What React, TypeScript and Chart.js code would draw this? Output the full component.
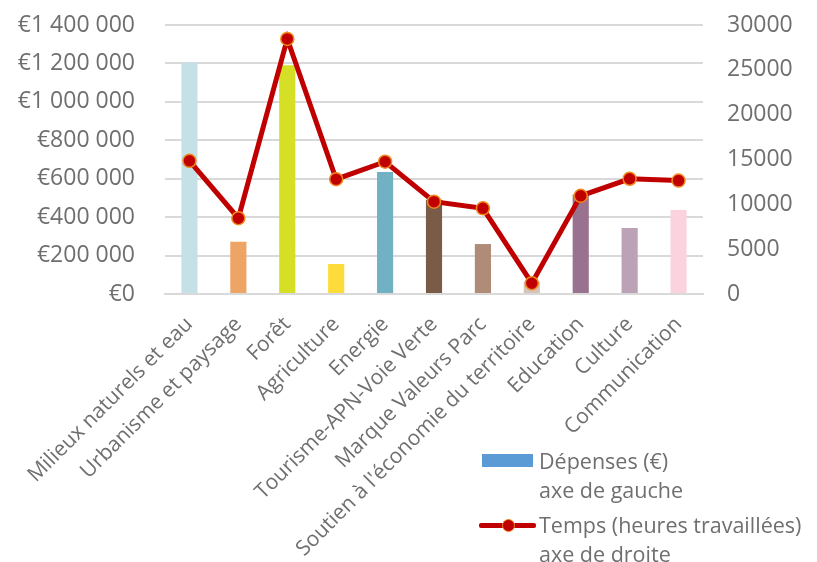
import React, { useEffect, useRef } from "react";
import { Chart, registerables } from "chart.js";

Chart.register(...registerables);

const categories = [
  "Milieux naturels et eau",
  "Urbanisme et paysage",
  "Forêt",
  "Agriculture",
  "Energie",
  "Tourisme-APN-Voie Verte",
  "Marque Valeurs Parc",
  "Soutien à l'économie du territoire",
  "Education",
  "Culture",
  "Communication",
];

const depenses = [1205000, 272000, 1190000, 156000, 635000, 490000, 260000, 65000, 518000, 343000, 437000];
const temps = [14850, 8450, 28450, 12800, 14750, 10300, 9550, 1200, 10950, 12850, 12650];

const barColors = [
  "#c6e0e8",
  "#eda464",
  "#d4df26",
  "#fddb3a",
  "#72b1c3",
  "#7a5b47",
  "#b08c78",
  "#d6c4b8",
  "#98728f",
  "#bba2b6",
  "#fbd3de",
];

const leftTickLabels = ["€0", "€200 000", "€400 000", "€600 000", "€800 000", "€1 000 000", "€1 200 000", "€1 400 000"];
const rightTickLabels = ["0", "5000", "10000", "15000", "20000", "25000", "30000"];

const legendBarLabel = ["Dépenses (€)", "axe de gauche"];
const legendLineLabel = ["Temps (heures travaillées)", "axe de droite"];

const TEXT = "#6f6f6f";
const FONT = "'Open Sans', 'Noto Sans', sans-serif";

export default function App() {
  const ref = useRef<HTMLCanvasElement | null>(null);

  useEffect(() => {
    if (!ref.current) return;
    const chart = new Chart(ref.current, {
      type: "bar",
      data: {
        labels: categories,
        datasets: [
          {
            type: "line",
            label: "Temps",
            data: temps,
            yAxisID: "y1",
            borderColor: "#c00000",
            borderWidth: 5,
            pointBackgroundColor: "#c00000",
            pointBorderColor: "#f08a1c",
            pointBorderWidth: 1.5,
            pointRadius: 6.5,
            tension: 0,
            order: 0,
          } as any,
          {
            type: "bar",
            label: "Dépenses",
            data: depenses,
            yAxisID: "y",
            backgroundColor: barColors,
            barPercentage: 0.33,
            categoryPercentage: 1,
            order: 1,
          },
        ],
      },
      options: {
        responsive: false,
        animation: false,
        maintainAspectRatio: false,
        layout: { padding: { top: 25, left: 0, right: 0, bottom: 0 } },
        plugins: {
          legend: { display: false },
          tooltip: { enabled: false },
        },
        scales: {
          x: {
            grid: { display: false },
            border: { color: "#d9d9d9", width: 2 },
            ticks: {
              color: TEXT,
              font: { family: FONT, size: 21 },
              minRotation: 45,
              maxRotation: 45,
              autoSkip: false,
              padding: 10,
            },
            afterFit: (s: any) => {
              s.height = 562 - 294;
            },
          },
          y: {
            position: "left",
            min: 0,
            max: 1400000,
            ticks: {
              stepSize: 200000,
              color: TEXT,
              font: { family: FONT, size: 23 },
              padding: 30,
              callback: (_v: any, i: number) => leftTickLabels[i],
            },
            grid: { color: "#d9d9d9", lineWidth: 2, drawTicks: false },
            border: { display: false },
            afterFit: (s: any) => {
              s.width = 165;
              s.paddingTop = 0;
              s.paddingBottom = 0;
            },
          },
          y1: {
            position: "right",
            min: 0,
            max: 30000,
            ticks: {
              stepSize: 5000,
              color: TEXT,
              font: { family: FONT, size: 23 },
              padding: 24,
              callback: (_v: any, i: number) => rightTickLabels[i],
            },
            grid: { display: false, drawTicks: false },
            border: { display: false },
            afterFit: (s: any) => {
              s.width = 817 - 703;
              s.paddingTop = 0;
              s.paddingBottom = 0;
            },
          },
        },
      },
    });
    return () => chart.destroy();
  }, []);

  const textStyle: React.CSSProperties = {
    position: "absolute",
    fontFamily: FONT,
    fontSize: 21.5,
    color: TEXT,
    lineHeight: "29px",
    whiteSpace: "nowrap",
  };

  return (
    <div style={{ position: "fixed", left: 0, top: 0, width: 817, height: 562, background: "#fff" }}>
      <canvas ref={ref} width={817} height={562} style={{ position: "absolute", left: 0, top: 0 }} />
      <div style={{ position: "absolute", left: 482, top: 454, width: 51, height: 13, background: "#5b9bd5" }} />
      <div style={{ ...textStyle, left: 539, top: 446 }}>
        {legendBarLabel[0]}
        <br />
        {legendBarLabel[1]}
      </div>
      <div style={{ position: "absolute", left: 479, top: 522.5, width: 57, height: 5, background: "#c00000", borderRadius: 2 }} />
      <div
        style={{
          position: "absolute",
          left: 501.5,
          top: 518.5,
          width: 11,
          height: 11,
          borderRadius: "50%",
          background: "#c00000",
          border: "1.5px solid #f08a1c",
        }}
      />
      <div style={{ ...textStyle, left: 539, top: 510 }}>
        {legendLineLabel[0]}
        <br />
        {legendLineLabel[1]}
      </div>
    </div>
  );
}
